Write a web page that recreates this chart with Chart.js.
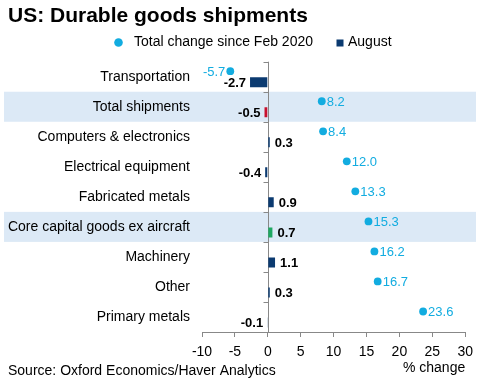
<!DOCTYPE html>
<html>
<head>
<meta charset="utf-8">
<script src="https://cdn.jsdelivr.net/npm/chart.js@4.4.1/dist/chart.umd.min.js"></script>
<style>
  html, body { margin: 0; padding: 0; background: #fff; }
  #wrap { width: 480px; height: 384px; }
</style>
</head>
<body>
<div id="wrap"><canvas id="chart"></canvas></div>
<script>
// chart data
const categories = ['Transportation', 'Total shipments', 'Computers & electronics', 'Electrical equipment',
    'Fabricated metals', 'Core capital goods ex aircraft', 'Machinery', 'Other', 'Primary metals'];
const totalChange = [-5.7, 8.2, 8.4, 12.0, 13.3, 15.3, 16.2, 16.7, 23.6];
const august = [-2.7, -0.5, 0.3, -0.4, 0.9, 0.7, 1.1, 0.3, -0.1];
const xTickValues = [-10, -5, 0, 5, 10, 15, 20, 25, 30];
const highlighted = ['Total shipments', 'Core capital goods ex aircraft'];
const seriesNames = ['Total change since Feb 2020', 'August'];

const CYAN = '#12ace0';
const NAVY = '#0b3a70';
const RED = '#c8102e';
const GREEN = '#1fa862';
const BAND = '#dce9f6';
const AXIS = '#888888';
const FONT = 'Arial, "Liberation Sans", sans-serif';

Chart.defaults.font.family = FONT;
Chart.defaults.color = '#000';

function barColor(cat) {
    if (cat === 'Total shipments') return RED;
    if (cat === 'Core capital goods ex aircraft') return GREEN;
    return NAVY;
}

const chartDecor = {
    id: 'chartDecor',
    beforeDraw(chart) {
        const ctx = chart.ctx;
        const y = chart.scales.y;
        ctx.save();
        ctx.fillStyle = BAND;
        highlighted.forEach(name => {
            const i = categories.indexOf(name);
            const y0 = y.getPixelForValue(i - 0.5);
            const y1 = y.getPixelForValue(i + 0.5);
            ctx.fillRect(4, y0, chart.width - 8, y1 - y0);
        });
        ctx.restore();
    },
    beforeDatasetsDraw(chart) {
        // zero line with small ticks between categories
        const ctx = chart.ctx;
        const x = chart.scales.x;
        const y = chart.scales.y;
        const zx = Math.round(x.getPixelForValue(0)) + 0.5;
        ctx.save();
        ctx.strokeStyle = AXIS;
        ctx.lineWidth = 1;
        ctx.beginPath();
        ctx.moveTo(zx, chart.chartArea.top);
        ctx.lineTo(zx, chart.chartArea.bottom);
        for (let i = 0; i <= categories.length; i++) {
            const ty = Math.round(y.getPixelForValue(i - 0.5)) + 0.5;
            ctx.moveTo(zx - 5, ty);
            ctx.lineTo(zx, ty);
        }
        ctx.stroke();
        ctx.restore();
    },
    afterDatasetsDraw(chart) {
        const ctx = chart.ctx;
        ctx.save();
        ctx.textBaseline = 'middle';

        // August bar labels
        ctx.font = 'bold 13px ' + FONT;
        ctx.fillStyle = '#000';
        chart.getDatasetMeta(1).data.forEach((el, i) => {
            const v = august[i];
            const p = el.getProps(['x', 'y'], true);
            ctx.textAlign = v < 0 ? 'right' : 'left';
            ctx.fillText(v.toFixed(1), v < 0 ? p.x - 4 : p.x + 5, p.y + 1);
        });

        // total change dots
        ctx.font = '13px ' + FONT;
        ctx.fillStyle = CYAN;
        chart.getDatasetMeta(0).data.forEach((el, i) => {
            const v = totalChange[i];
            const p = el.getProps(['x', 'y'], true);
            ctx.beginPath();
            ctx.arc(p.x, p.y, 3.9, 0, Math.PI * 2);
            ctx.fill();
            ctx.textAlign = v < 0 ? 'right' : 'left';
            ctx.fillText(v.toFixed(1), v < 0 ? p.x - 5 : p.x + 5, p.y + 1);
        });

        ctx.restore();
    },
    afterDraw(chart) {
        const ctx = chart.ctx;
        ctx.save();
        ctx.font = '14px ' + FONT;
        ctx.textAlign = 'left';
        ctx.textBaseline = 'middle';

        // legend
        ctx.fillStyle = CYAN;
        ctx.beginPath();
        ctx.arc(118.5, 42.5, 4.3, 0, Math.PI * 2);
        ctx.fill();
        ctx.fillStyle = NAVY;
        ctx.fillRect(336.5, 39.5, 7, 7);
        ctx.fillStyle = '#000';
        ctx.fillText(seriesNames[0], 134, 42.5);
        ctx.fillText(seriesNames[1], 348, 42.5);

        // source note
        ctx.fillText('Source: Oxford Economics/Haver Analytics', 8, chart.height - 13);
        ctx.restore();
    }
};

new Chart(document.getElementById('chart'), {
    type: 'bar',
    data: {
        labels: categories,
        datasets: [{
            label: seriesNames[0],
            data: totalChange,
            backgroundColor: 'rgba(0,0,0,0)',
            borderWidth: 0,
            categoryPercentage: 0.733,
            barPercentage: 0.91
        }, {
            label: seriesNames[1],
            data: august,
            backgroundColor: categories.map(barColor),
            borderWidth: 0,
            categoryPercentage: 0.733,
            barPercentage: 0.91
        }]
    },
    options: {
        indexAxis: 'y',
        responsive: true,
        maintainAspectRatio: false,
        animation: false,
        layout: { padding: { left: 8, right: 13, top: 0, bottom: 3 } },
        plugins: {
            title: {
                display: true,
                text: 'US: Durable goods shipments',
                align: 'start',
                color: '#000',
                font: { size: 21, weight: 'bold' },
                padding: { top: 3.5, bottom: 33 }
            },
            legend: { display: false },
            tooltip: { enabled: false }
        },
        scales: {
            x: {
                min: xTickValues[0],
                max: xTickValues[xTickValues.length - 1],
                afterBuildTicks: scale => { scale.ticks = xTickValues.map(v => ({ value: v })); },
                afterFit: scale => { scale.height = 49; },
                grid: { display: true, drawOnChartArea: false, drawTicks: true, tickLength: 5, color: AXIS },
                border: { display: true, color: AXIS },
                ticks: { font: { size: 14 }, color: '#000', padding: 7 },
                title: {
                    display: true,
                    text: '% change',
                    align: 'end',
                    color: '#000',
                    font: { size: 14 },
                    padding: { top: 0, bottom: 4 }
                }
            },
            y: {
                afterFit: scale => { scale.width = 194; },
                grid: { display: false, drawTicks: false },
                border: { display: false },
                ticks: { font: { size: 14 }, color: '#000', padding: 12 }
            }
        }
    },
    plugins: [chartDecor]
});
</script>
</body>
</html>
